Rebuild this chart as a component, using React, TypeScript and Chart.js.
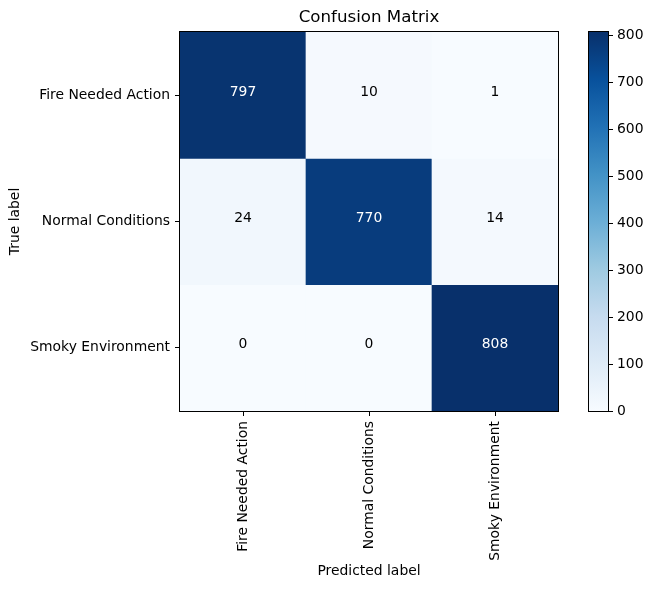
import React, { useEffect, useRef } from "react";
import { Chart, registerables } from "chart.js";

Chart.register(...registerables);

const predictedLabels = ["Fire Needed Action", "Normal Conditions", "Smoky Environment"];
const trueLabels = ["Fire Needed Action", "Normal Conditions", "Smoky Environment"];
const rowFire = [797, 10, 1];
const rowNormal = [24, 770, 14];
const rowSmoky = [0, 0, 808];
const matrix = [rowFire, rowNormal, rowSmoky];
const colorbarTicks = [0, 100, 200, 300, 400, 500, 600, 700, 800];

const FONT = "'DejaVu Sans', sans-serif";

// matplotlib "Blues" colormap control colours
const BLUES = [
  [247, 251, 255],
  [222, 235, 247],
  [198, 219, 239],
  [158, 202, 225],
  [107, 174, 214],
  [66, 146, 198],
  [33, 113, 181],
  [8, 81, 156],
  [8, 48, 107],
];

function blues(t: number): string {
  const tt = Math.max(0, Math.min(1, t));
  const pos = tt * (BLUES.length - 1);
  const i = Math.min(BLUES.length - 2, Math.floor(pos));
  const f = pos - i;
  const a = BLUES[i];
  const b = BLUES[i + 1];
  const c = a.map((v, k) => Math.round(v + (b[k] - v) * f));
  return `rgb(${c[0]},${c[1]},${c[2]})`;
}

const vmax = Math.max(...matrix.flat());
const vmin = 0;

const framePlugin = {
  id: "frame",
  afterDraw(chart: any) {
    const { ctx, chartArea } = chart;
    ctx.save();
    ctx.strokeStyle = "#000";
    ctx.lineWidth = 1;
    const l = Math.round(chartArea.left) - 0.5;
    const t = Math.round(chartArea.top) - 0.5;
    const r = Math.round(chartArea.right) + 0.5;
    const b = Math.round(chartArea.bottom) + 0.5;
    ctx.strokeRect(l, t, r - l, b - t);
    ctx.restore();
  },
};

const annotationPlugin = {
  id: "cellText",
  afterDatasetsDraw(chart: any) {
    const { ctx } = chart;
    const xs = chart.scales.x;
    const ys = chart.scales.y;
    ctx.save();
    ctx.font = `13.9px ${FONT}`;
    ctx.textAlign = "center";
    ctx.textBaseline = "alphabetic";
    matrix.forEach((row, r) => {
      row.forEach((v, c) => {
        ctx.fillStyle = v > vmax / 2 ? "#ffffff" : "#000000";
        ctx.fillText(String(v), xs.getPixelForValue(c), ys.getPixelForValue(r) + 0.5);
      });
    });
    ctx.restore();
  },
};

export default function App() {
  const mainRef = useRef<HTMLCanvasElement>(null);
  const cbRef = useRef<HTMLCanvasElement>(null);

  useEffect(() => {
    const main = new Chart(mainRef.current as HTMLCanvasElement, {
      type: "bar",
      data: {
        labels: predictedLabels,
        datasets: matrix.map((row, r) => ({
          label: trueLabels[r],
          data: row.map(() => [r - 0.5, r + 0.5]),
          backgroundColor: row.map((v) => blues((v - vmin) / (vmax - vmin))),
          borderWidth: 0,
          grouped: false,
          barPercentage: 1,
          categoryPercentage: 1,
        })) as any,
      },
      options: {
        animation: false,
        responsive: false,
        devicePixelRatio: 1,
        layout: { padding: { left: 0, right: 2, top: 0, bottom: 0 } },
        plugins: {
          legend: { display: false },
          tooltip: { enabled: false },
          title: {
            display: true,
            text: "Confusion Matrix",
            fullSize: false,
            color: "#000",
            font: { family: FONT, size: 16.67, weight: "normal" },
            padding: { top: 8, bottom: 4 },
          },
        },
        scales: {
          x: {
            type: "category",
            offset: true,
            grid: {
              display: true,
              drawOnChartArea: false,
              drawTicks: true,
              tickLength: 5,
              color: "#000",
              offset: false,
            },
            border: { display: false },
            ticks: {
              color: "#000",
              font: { family: FONT, size: 13.9 },
              minRotation: 90,
              maxRotation: 90,
              autoSkip: false,
              padding: 5,
            },
            title: {
              display: true,
              text: "Predicted label",
              color: "#000",
              font: { family: FONT, size: 13.9 },
              padding: { top: 0, bottom: 10 },
            },
            afterFit: (axis: any) => {
              axis.height = 179;
            },
          },
          y: {
            type: "linear",
            reverse: true,
            min: -0.5,
            max: 2.5,
            grid: {
              display: true,
              drawOnChartArea: false,
              drawTicks: true,
              tickLength: 5,
              color: "#000",
            },
            border: { display: false },
            afterBuildTicks: (axis: any) => {
              axis.ticks = trueLabels.map((_, i) => ({ value: i }));
            },
            ticks: {
              color: "#000",
              font: { family: FONT, size: 13.9 },
              padding: 5,
              callback: (v: any) => trueLabels[Number(v)] ?? "",
            },
            title: {
              display: true,
              text: "True label",
              color: "#000",
              font: { family: FONT, size: 13.9 },
              padding: { top: 7, bottom: 0 },
            },
            afterFit: (axis: any) => {
              axis.width = 180;
            },
          },
        },
      } as any,
      plugins: [annotationPlugin, framePlugin],
    });

    const cb = new Chart(cbRef.current as HTMLCanvasElement, {
      type: "bar",
      data: {
        labels: [""],
        datasets: [
          {
            data: [[vmin, vmax]] as any,
            borderWidth: 0,
            barPercentage: 1,
            categoryPercentage: 1,
            backgroundColor: (context: any) => {
              const chart = context.chart;
              const area = chart.chartArea;
              if (!area) return blues(0.5);
              const ys = chart.scales.y;
              const y0 = ys.getPixelForValue(vmin);
              const y1 = ys.getPixelForValue(vmax);
              const g = chart.ctx.createLinearGradient(0, y0, 0, y1);
              BLUES.forEach((c, i) => {
                g.addColorStop(i / (BLUES.length - 1), `rgb(${c[0]},${c[1]},${c[2]})`);
              });
              return g;
            },
          },
        ],
      },
      options: {
        animation: false,
        responsive: false,
        devicePixelRatio: 1,
        layout: { padding: { left: 29, right: 0, top: 32, bottom: 179 } },
        plugins: {
          legend: { display: false },
          tooltip: { enabled: false },
        },
        scales: {
          x: { display: false },
          y: {
            type: "linear",
            position: "right",
            min: vmin,
            max: vmax,
            grid: {
              display: true,
              drawOnChartArea: false,
              drawTicks: true,
              tickLength: 5,
              color: "#000",
            },
            border: { display: false },
            afterBuildTicks: (axis: any) => {
              axis.ticks = colorbarTicks.map((v) => ({ value: v }));
            },
            ticks: {
              color: "#000",
              font: { family: FONT, size: 13.9 },
              padding: 4,
            },
            afterFit: (axis: any) => {
              axis.width = 46;
            },
          },
        },
      } as any,
      plugins: [framePlugin],
    });

    return () => {
      main.destroy();
      cb.destroy();
    };
  }, []);

  return (
    <div style={{ position: "fixed", left: 0, top: 0, width: 654, height: 590, background: "#fff" }}>
      <canvas
        ref={mainRef}
        width={560}
        height={590}
        style={{ position: "absolute", left: 0, top: 0, width: 560, height: 590 }}
      />
      <canvas
        ref={cbRef}
        width={94}
        height={590}
        style={{ position: "absolute", left: 560, top: 0, width: 94, height: 590 }}
      />
    </div>
  );
}
